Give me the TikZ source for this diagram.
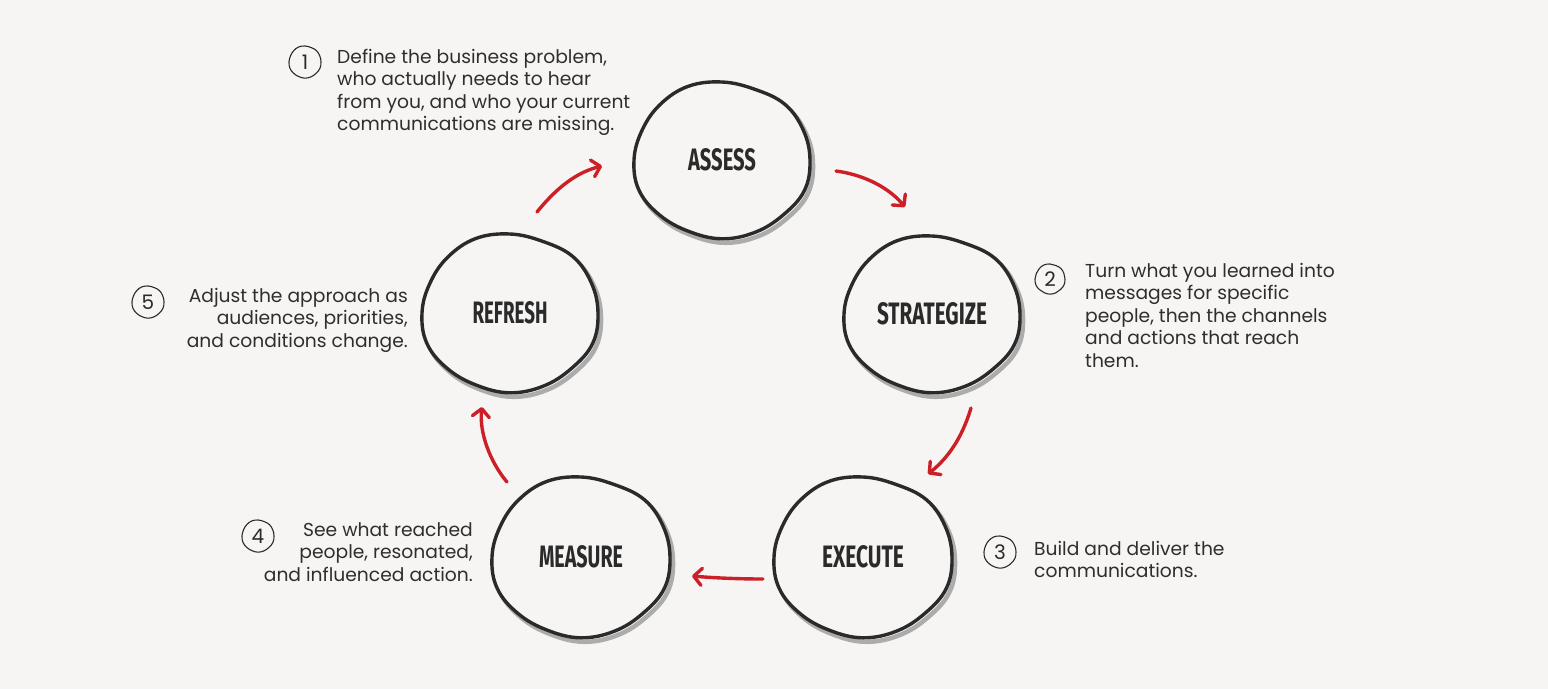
\documentclass[tikz,border=0pt]{standalone}
\usepackage{fontspec}
\usepackage{graphicx}
\setmainfont{Poppins}
\newfontfamily\ttlfont{Fira Sans}
\usetikzlibrary{arrows.meta,shapes.geometric}
\definecolor{bg}{HTML}{F6F5F3}
\definecolor{ink}{HTML}{2A2A2A}
\definecolor{txt}{HTML}{2E2E2E}
\definecolor{arrowred}{HTML}{CC1F27}
\definecolor{shade}{HTML}{8E8E8E}
\tikzset{
  ring/.style={draw=ink, line width=3.4pt, fill=bg, line join=round},
  ringshadow/.style={draw=shade, line width=4.5pt, opacity=0.7},
  flow/.style={draw=arrowred, line width=3.4pt, line cap=round,
    -{Straight Barb[length=8pt,width=17pt,line width=3.4pt,round]}},
  note/.style={font=\fontsize{18.7}{22.5}\selectfont, text=txt, inner sep=0pt},
  numring/.style={draw=ink, line width=1.1pt},
  numtext/.style={font=\fontsize{20}{20}\selectfont, text=ink, inner sep=0pt},
  stagebox/.style={ellipse, inner sep=0pt, text=ink},
}
\newcommand\blobcoords{plot[smooth cycle, tension=0.65] coordinates {(0:1.00) (22.5:1.015) (45:0.99) (67.5:1.0) (90:1.01) (112.5:0.99) (135:1.0) (157.5:1.02) (180:1.0) (202.5:0.985) (225:1.0) (247.5:1.02) (270:1.0) (292.5:0.98) (315:1.01) (337.5:1.0)}}
\newcommand\stage[7]{%
  \begin{scope}[shift={(#2+3,#3+4)}, xscale=#4, yscale=#5]
    \draw[ringshadow] \blobcoords;
  \end{scope}
  \begin{scope}[shift={(#2,#3)}, xscale=#4, yscale=#5]
    \draw[ring] \blobcoords;
  \end{scope}
  \node[stagebox, minimum width=2*#4pt, minimum height=2*#5pt] (#1) at (#2,#3)
    {\resizebox{#6pt}{22pt}{\ttlfont\bfseries #7}};
}
\newcommand\numbadge[5]{%
  \begin{scope}[shift={(#2,#3)}, xscale=#4, yscale=#4]
    \draw[numring] \blobcoords;
  \end{scope}
  \node[numtext] (#1) at (#2,#3) {#5};
}
\begin{document}
\begin{tikzpicture}[x=1pt,y=-1pt]
\fill[bg] (0,0) rectangle (1548,689);
\useasboundingbox (0,0) rectangle (1548,689);

\stage{assess}{722}{160}{88}{78}{68}{ASSESS}
\stage{strategize}{932}{314}{88}{78}{110}{STRATEGIZE}
\stage{execute}{863}{557}{89}{80}{82}{EXECUTE}
\stage{measure}{581}{557}{89}{80}{84}{MEASURE}
\stage{refresh}{510}{313}{88}{79}{75}{REFRESH}

% arrows
\coordinate (a1s) at (836,171); \coordinate (a1e) at (905,207);
\draw[flow] (a1s) .. controls (866,175) and (890,189) .. (a1e);
\coordinate (a2s) at (971,408); \coordinate (a2e) at (928,474);
\draw[flow] (a2s) .. controls (962,438) and (948,458) .. (a2e);
\coordinate (a3s) at (763,579); \coordinate (a3e) at (692,576);
\draw[flow] (a3s) .. controls (740,579) and (715,578) .. (a3e);
\coordinate (a4s) at (507,482); \coordinate (a4e) at (482,407);
\draw[flow] (a4s) .. controls (490,462) and (479,432) .. (a4e);
\coordinate (a5s) at (537,212); \coordinate (a5e) at (602,166);
\draw[flow] (a5s) .. controls (558,186) and (578,172) .. (a5e);

% number badges
\numbadge{n1}{305}{62}{16}{1}
\numbadge{n2}{1050}{279}{15}{2}
\numbadge{n3}{1000}{552}{16}{3}
\numbadge{n4}{258}{536}{16}{4}
\numbadge{n5}{148}{302}{16}{5}

% notes
\node[note, anchor=north west, align=left] (t1) at (337,49)
  {Define the business problem,\\who actually needs to hear\\from you, and who your current\\communications are missing.};
\node[note, anchor=north west, align=left] (t2) at (1085,263)
  {Turn what you learned into\\messages for specific\\people, then the channels\\and actions that reach\\them.};
\node[note, anchor=north west, align=left] (t3) at (1034,541)
  {Build and deliver the\\communications.};
\node[note, anchor=north east, align=right] (t4) at (473,522)
  {See what reached\\people, resonated,\\and influenced action.};
\node[note, anchor=north east, align=right] (t5) at (408,288)
  {Adjust the approach as\\audiences, priorities,\\and conditions change.};
\end{tikzpicture}
\end{document}
